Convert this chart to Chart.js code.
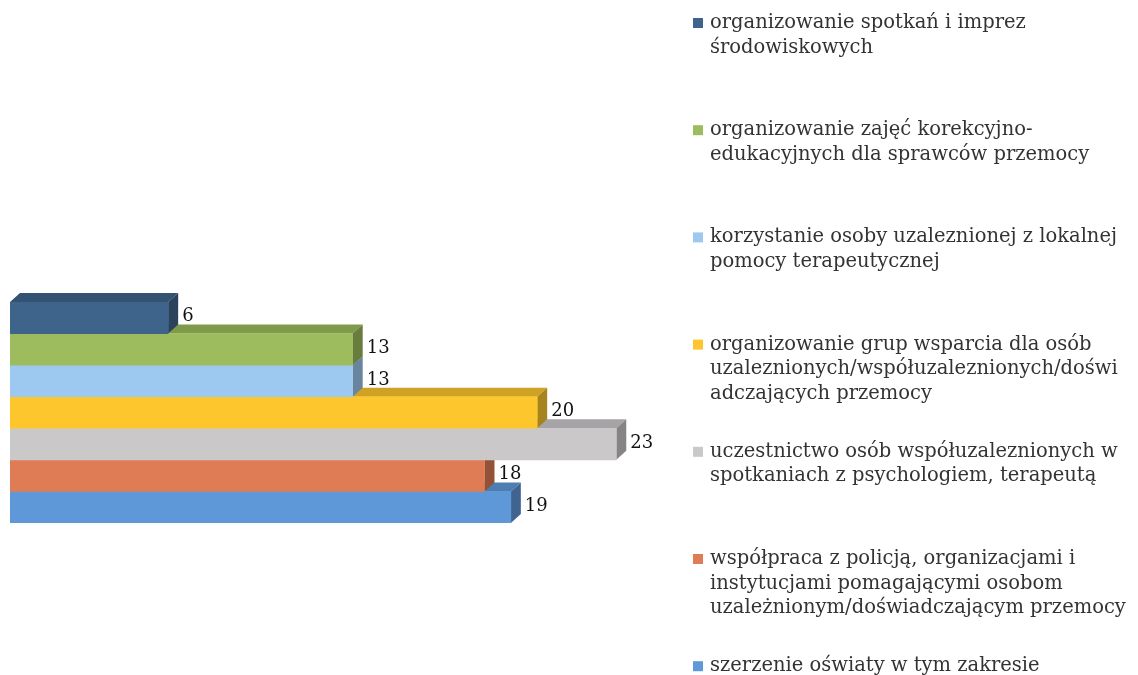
<!DOCTYPE html>
<html>
<head>
<meta charset="utf-8">
<script src="https://cdn.jsdelivr.net/npm/chart.js@4"></script>
<style>
  html, body { margin: 0; padding: 0; background: #ffffff; }
  #wrap { width: 1138px; height: 675px; position: relative; }
</style>
</head>
<body>
<div id="wrap"><canvas id="bar-chart"></canvas></div>
<script>
const seriesNames = [
  "organizowanie spotkań i imprez środowiskowych",
  "organizowanie zajęć korekcyjno-edukacyjnych dla sprawców przemocy",
  "korzystanie osoby uzaleznionej z lokalnej pomocy terapeutycznej",
  "organizowanie grup wsparcia dla osób uzaleznionych/współuzaleznionych/doświadczających przemocy",
  "uczestnictwo osób współuzaleznionych w spotkaniach z psychologiem, terapeutą",
  "współpraca z policją, organizacjami i instytucjami pomagającymi osobom uzależnionym/doświadczającym przemocy",
  "szerzenie oświaty w tym zakresie",
];

// legend text broken into lines as in the picture
const legendLines = [
  ["organizowanie spotkań i imprez", "środowiskowych"],
  ["organizowanie zajęć korekcyjno-", "edukacyjnych dla sprawców przemocy"],
  ["korzystanie osoby uzaleznionej z lokalnej", "pomocy terapeutycznej"],
  ["organizowanie grup wsparcia dla osób", "uzaleznionych/współuzaleznionych/doświ", "adczających przemocy"],
  ["uczestnictwo osób współuzaleznionych w", "spotkaniach z psychologiem, terapeutą"],
  ["współpraca z policją, organizacjami i", "instytucjami pomagającymi osobom", "uzależnionym/doświadczającym przemocy"],
  ["szerzenie oświaty w tym zakresie"],
];

const values = [6, 13, 13, 20, 23, 18, 19];

const colors = ["#3f648b", "#9cbc5d", "#9dc8ef", "#fdc62c", "#cbc8ca", "#df7c55", "#5f98d8"];

const shade = (hex, f) => {
  const n = parseInt(hex.slice(1), 16);
  const r = Math.round(((n >> 16) & 255) * f);
  const g = Math.round(((n >> 8) & 255) * f);
  const b = Math.round((n & 255) * f);
  return "rgb(" + r + "," + g + "," + b + ")";
};

const DX = 10;
const DY = 9;

// top and side faces, drawn before the fronts
const depthPlugin = {
  id: "depth",
  beforeDatasetsDraw(chart) {
    const ctx = chart.ctx;
    ctx.save();
    chart.data.datasets.forEach((ds, i) => {
      const bar = chart.getDatasetMeta(i).data[0];
      const top = bar.y - bar.height / 2;
      ctx.fillStyle = shade(colors[i], 0.82);
      ctx.beginPath();
      ctx.moveTo(bar.base, top);
      ctx.lineTo(bar.base + DX, top - DY);
      ctx.lineTo(bar.x + DX, top - DY);
      ctx.lineTo(bar.x, top);
      ctx.closePath();
      ctx.fill();
    });
    chart.data.datasets.forEach((ds, i) => {
      const bar = chart.getDatasetMeta(i).data[0];
      const top = bar.y - bar.height / 2;
      const bottom = bar.y + bar.height / 2;
      ctx.fillStyle = shade(colors[i], 0.66);
      ctx.beginPath();
      ctx.moveTo(bar.x, top);
      ctx.lineTo(bar.x + DX, top - DY);
      ctx.lineTo(bar.x + DX, bottom - DY);
      ctx.lineTo(bar.x, bottom);
      ctx.closePath();
      ctx.fill();
    });
    ctx.restore();
  },
  afterDatasetsDraw(chart) {
    const ctx = chart.ctx;
    ctx.save();
    ctx.fillStyle = "#111111";
    ctx.font = "18px 'DejaVu Serif'";
    ctx.textBaseline = "middle";
    chart.data.datasets.forEach((ds, i) => {
      const bar = chart.getDatasetMeta(i).data[0];
      ctx.fillText(String(values[i]), bar.x + 14, bar.y - 1);
    });
    ctx.restore();
  },
};

const legendPlugin = {
  id: "sideLegend",
  afterDraw(chart) {
    const ctx = chart.ctx;
    ctx.save();
    ctx.font = "19.5px 'DejaVu Serif'";
    ctx.textBaseline = "middle";
    legendLines.forEach((lines, i) => {
      const y0 = 23 + i * 107.2;
      ctx.fillStyle = colors[i];
      ctx.fillRect(693, y0 - 5, 10, 10);
      ctx.fillStyle = "#333333";
      lines.forEach((line, j) => {
        ctx.fillText(line, 710, y0 + j * 24.5);
      });
    });
    ctx.restore();
  },
};

const myChart = new Chart("bar-chart", {
  type: "bar",
  data: {
    labels: [""],
    datasets: seriesNames.map((name, i) => ({
      label: name,
      data: [values[i]],
      backgroundColor: colors[i],
      borderWidth: 0,
      categoryPercentage: 1,
      barPercentage: 1,
    })),
  },
  options: {
    indexAxis: "y",
    responsive: true,
    maintainAspectRatio: false,
    animation: false,
    layout: {
      padding: {
        top: 302,
        bottom: 152,
        left: 10,
        right: 469,
      },
    },
    scales: {
      x: { display: false, min: 0, max: 25 },
      y: { display: false },
    },
    plugins: {
      legend: { display: false },
      tooltip: { enabled: false },
    },
  },
  plugins: [depthPlugin, legendPlugin],
});
</script>
</body>
</html>
